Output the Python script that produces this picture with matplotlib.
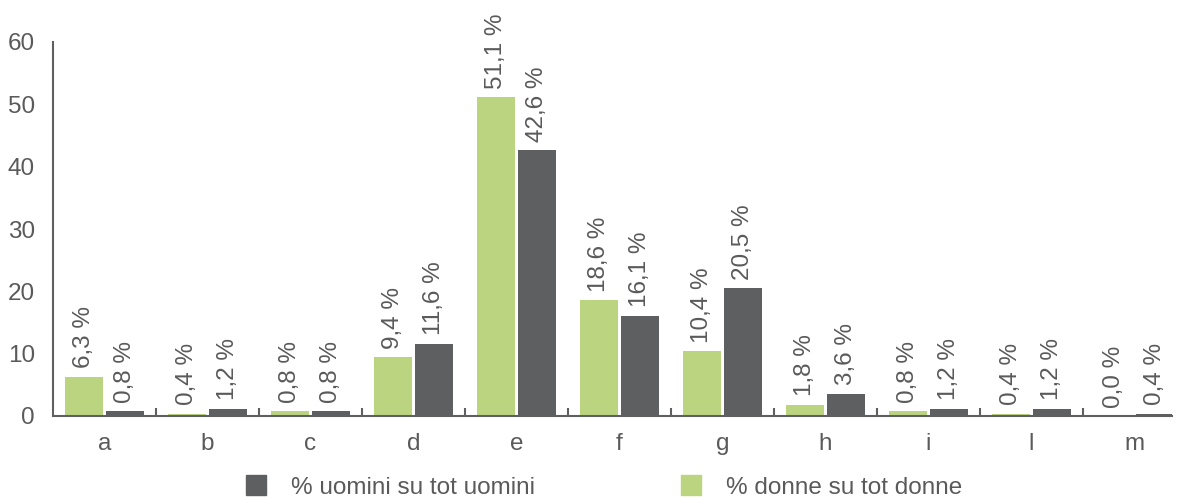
import numpy as np
import matplotlib.pyplot as plt
from matplotlib.patches import Patch

categories = ['a', 'b', 'c', 'd', 'e', 'f', 'g', 'h', 'i', 'l', 'm']
donne = [6.3, 0.4, 0.8, 9.4, 51.1, 18.6, 10.4, 1.8, 0.8, 0.4, 0.0]
uomini = [0.8, 1.2, 0.8, 11.6, 42.6, 16.1, 20.5, 3.6, 1.2, 1.2, 0.4]
yticks = [0, 10, 20, 30, 40, 50, 60]

green = '#BAD47F'
dark = '#5E5F61'
txt = '#5A5A5A'
fs = 17.5

plt.rcParams['font.family'] = ['Liberation Sans', 'DejaVu Sans']

fig = plt.figure(figsize=(11.77, 4.99), dpi=100)
ax = fig.add_axes([53 / 1177, 1 - 416 / 499, (1172 - 53) / 1177, (416 - 42) / 499])

x = np.arange(len(categories))
w = 0.37
b1 = ax.bar(x - 0.2, donne, w, color=green)
b2 = ax.bar(x + 0.2, uomini, w, color=dark)

# value labels above bars
for bars, vals in ((b1, donne), (b2, uomini)):
    for bar, v in zip(bars, vals):
        ax.annotate(f"{v:.1f} %".replace('.', ','),
                    (bar.get_x() + bar.get_width() / 2, bar.get_height()),
                    xytext=(0, 6), textcoords='offset points',
                    rotation=90, ha='center', va='bottom',
                    fontsize=fs, color=txt, annotation_clip=False)

ax.set_xlim(-0.5, -0.5 + (1172 - 53) / 103)
ax.set_ylim(0, 60)
ax.set_yticks(yticks)
ax.set_xticks(x)
ax.set_xticklabels(categories)
ax.set_xticks(np.arange(0.5, len(categories) - 0.5), minor=True)

ax.tick_params(axis='x', which='major', length=0, pad=12, labelsize=fs, labelcolor=txt)
ax.tick_params(axis='x', which='minor', length=6, width=1.5, direction='in', color=dark)
ax.tick_params(axis='y', length=0, pad=13, labelsize=fs, labelcolor=txt)

for s in ['top', 'right']:
    ax.spines[s].set_visible(False)
for s in ['left', 'bottom']:
    ax.spines[s].set_color(dark)
    ax.spines[s].set_linewidth(1.5)

handles = [Patch(color=dark, label='% uomini su tot uomini'),
           Patch(color=green, label='% donne su tot donne')]
fig.legend(handles=handles, loc='center', bbox_to_anchor=(0.513, 0.024), ncol=2,
           frameon=False, fontsize=fs, labelcolor=txt, handlelength=0.86,
           handleheight=0.86, handletextpad=1.0, columnspacing=6.0,
           borderpad=0)

fig.savefig('out.png', dpi=100)
